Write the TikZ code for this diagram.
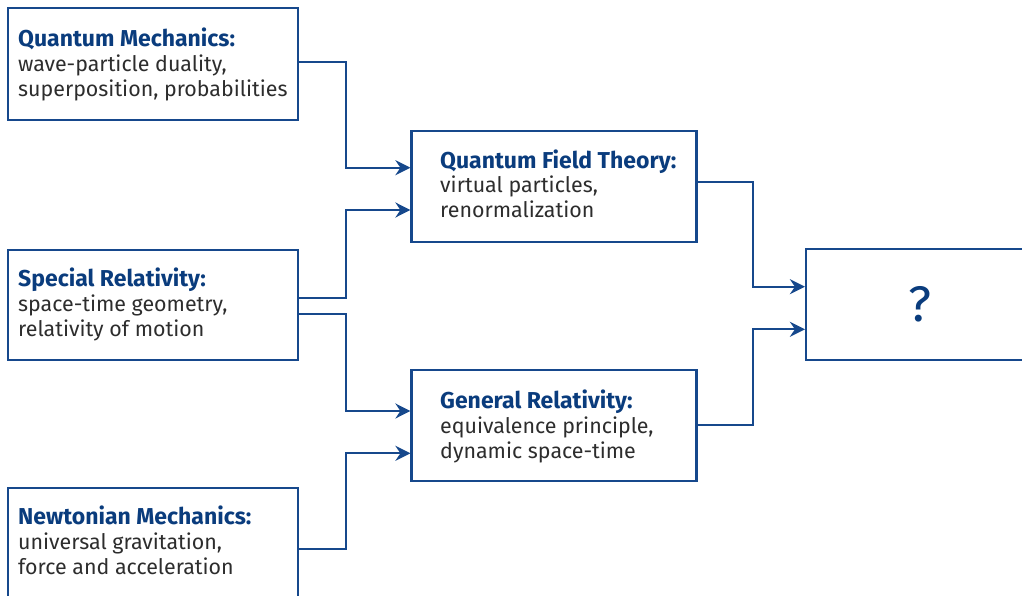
\documentclass[tikz,border=0pt]{standalone}
\usepackage{fontspec}
\setmainfont{Fira Sans}
\usetikzlibrary{arrows.meta}
\definecolor{lineblue}{RGB}{22,72,140}
\definecolor{headblue}{RGB}{10,60,125}
\definecolor{bodygray}{RGB}{45,45,45}
\begin{document}
\begin{tikzpicture}[x=1pt,y=-1pt,
  box/.style={draw=lineblue, line width=2.2pt, inner sep=0pt, fill=white},
  head/.style={anchor=base west, inner sep=0pt, font=\fontsize{23}{25}\selectfont\bfseries, text=headblue},
  body/.style={anchor=base west, inner sep=0pt, font=\fontsize{21.4}{25}\selectfont, text=bodygray},
  conn/.style={draw=lineblue, line width=2.2pt, -{Stealth[length=15pt,width=15pt,inset=5pt]}}]
\useasboundingbox (0,0) rectangle (1022,596);
\fill[white] (0,0) rectangle (1022,596);
\clip (0,0) rectangle (1022,596);
% boxes
\node[box, minimum width=290pt, minimum height=112pt] (qm) at (153,64) {};
\node[box, minimum width=290pt, minimum height=110pt] (sr) at (153,305) {};
\node[box, minimum width=290pt, minimum height=112pt] (nm) at (153,544) {};
\node[box, minimum width=285pt, minimum height=111pt] (qft) at (554,186.3) {};
\node[box, minimum width=285pt, minimum height=111pt] (gr) at (554,425.8) {};
\node[box, minimum width=228pt, minimum height=111pt, text=headblue,
      font=\fontsize{50}{50}\selectfont] (q) at (920,304.5) {?};
% texts
\node[head] (qmh) at (18,46.7) {Quantum Mechanics:};
\node[body] (qm1) at (18,71.7) {wave-particle duality,};
\node[body] (qm2) at (18,96.7) {superposition, probabilities};
\node[head] (srh) at (18,286) {Special Relativity:};
\node[body] (sr1) at (18,311) {space-time geometry,};
\node[body] (sr2) at (18,336) {relativity of motion};
\node[head] (nmh) at (18,524) {Newtonian Mechanics:};
\node[body] (nm1) at (18,549) {universal gravitation,};
\node[body] (nm2) at (18,574) {force and acceleration};
\node[head] (qfth) at (440,168.3) {Quantum Field Theory:};
\node[body] (qft1) at (440,193) {virtual particles,};
\node[body] (qft2) at (440,218) {renormalization};
\node[head] (grh) at (440,408) {General Relativity:};
\node[body] (gr1) at (440,433) {equivalence principle,};
\node[body] (gr2) at (440,458) {dynamic space-time};
% connectors
\draw[conn] ([yshift=2pt]qm.east) -- ++(47,0) |- ([yshift=18.6pt]qft.west);
\draw[conn] ([yshift=6.7pt]sr.east) -- ++(47,0) |- ([yshift=-23.7pt]qft.west);
\draw[conn] ([yshift=-9pt]sr.east) -- ++(47,0) |- ([yshift=14.8pt]gr.west);
\draw[conn] ([yshift=-5.3pt]nm.east) -- ++(47,0) |- ([yshift=-27.5pt]gr.west);
\draw[conn] ([yshift=4.6pt]qft.east) -- ++(55.3,0) |- ([yshift=17.8pt]q.west);
\draw[conn] ([yshift=0.8pt]gr.east) -- ++(55.3,0) |- ([yshift=-24.8pt]q.west);
\end{tikzpicture}
\end{document}
